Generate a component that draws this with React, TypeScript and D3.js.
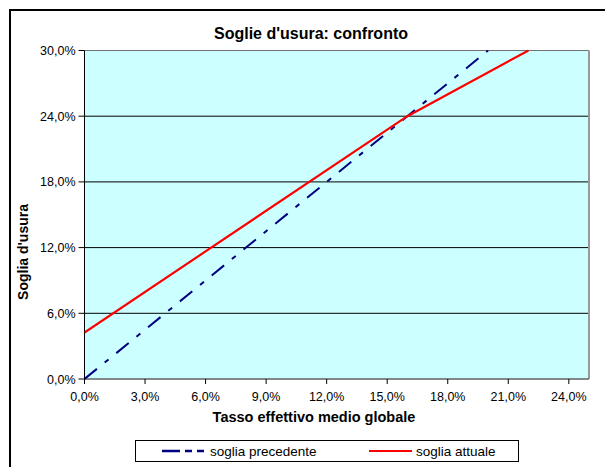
import React from "react";
import * as d3 from "d3";

const xTicks = [0, 3, 6, 9, 12, 15, 18, 21, 24];
const yTicks = [0, 6, 12, 18, 24, 30];
const precedenteX = [0, 20];
const precedenteY = [0, 30];
const attualeX = [0, 16, 22];
const attualeY = [4.25, 24, 30];

const W = 605;
const H = 467;
const M = { left: 84.5, right: 589, top: 50.5, bottom: 379 };
const FONT = "Arial, 'Liberation Sans', Helvetica, sans-serif";

export default function App() {
  const x = d3.scaleLinear().domain([0, 25]).range([M.left, M.right]);
  const y = d3.scaleLinear().domain([0, 30]).range([M.bottom, M.top]);
  const fmt = (v: number) => v.toFixed(1).replace(".", ",") + "%";
  const line = d3
    .line<[number, number]>()
    .x((d) => x(d[0]))
    .y((d) => y(d[1]));
  const bluePts = precedenteX.map((v, i) => [v, precedenteY[i]] as [number, number]);
  const redPts = attualeX.map((v, i) => [v, attualeY[i]] as [number, number]);

  return (
    <svg
      width={W}
      height={H}
      style={{ position: "absolute", left: 0, top: 0 }}
      fontFamily={FONT}
    >
      <rect x={0} y={0} width={W} height={H} fill="#ffffff" />
      <rect x={10} y={10} width={W + 20} height={H + 20} fill="none" stroke="#000" strokeWidth={2} />
      <text x={311} y={39} textAnchor="middle" fontSize={16} fontWeight="bold">
        Soglie d'usura: confronto
      </text>
      <rect
        x={M.left}
        y={M.top}
        width={M.right - M.left}
        height={M.bottom - M.top}
        fill="#CCFFFF"
      />
      {yTicks
        .filter((t) => t > 0 && t < 30)
        .map((t) => (
          <line key={t} x1={M.left} x2={M.right} y1={y(t)} y2={y(t)} stroke="#000" strokeWidth={1} />
        ))}
      <line x1={M.left} x2={M.right} y1={M.top} y2={M.top} stroke="#707070" strokeWidth={1} />
      <line x1={M.right} x2={M.right} y1={M.top} y2={M.bottom} stroke="#999" strokeWidth={2} />
      <line x1={M.left} x2={M.right} y1={M.bottom} y2={M.bottom} stroke="#606060" strokeWidth={1.5} />
      <line x1={M.left} x2={M.left} y1={M.top} y2={M.bottom} stroke="#000" strokeWidth={1} />
      <clipPath id="plotclip">
        <rect x={M.left} y={M.top - 1} width={M.right - M.left} height={M.bottom - M.top + 2} />
      </clipPath>
      <g clipPath="url(#plotclip)">
        <path
          d={line(bluePts) || ""}
          fill="none"
          stroke="#000080"
          strokeWidth={2}
          strokeDasharray="16,10,5,10"
        />
        <path d={line(redPts) || ""} fill="none" stroke="#FF0000" strokeWidth={2.2} />
      </g>
      {yTicks.map((t) => (
        <g key={t}>
          <line x1={M.left - 6} x2={M.left} y1={y(t)} y2={y(t)} stroke="#000" />
          <text x={M.left - 9} y={y(t) + 4.5} textAnchor="end" fontSize={12.5}>
            {fmt(t)}
          </text>
        </g>
      ))}
      {xTicks.map((t) => (
        <g key={t}>
          <line x1={x(t)} x2={x(t)} y1={M.bottom} y2={M.bottom + 5} stroke="#000" />
          <text x={x(t)} y={M.bottom + 22} textAnchor="middle" fontSize={12.5}>
            {fmt(t)}
          </text>
        </g>
      ))}
      <text x={314} y={422} textAnchor="middle" fontSize={14.5} fontWeight="bold">
        Tasso effettivo medio globale
      </text>
      <text
        transform={`translate(28,252) rotate(-90)`}
        textAnchor="middle"
        fontSize={14}
        fontWeight="bold"
      >
        Soglia d'usura
      </text>
      <rect x={135.5} y={440.5} width={383} height={21} fill="#fff" stroke="#000" strokeWidth={1} />
      <line x1={162} x2={206} y1={451} y2={451} stroke="#000080" strokeWidth={2.5} strokeDasharray="18,5,7,5,7,20" />
      <text x={210} y={456} fontSize={13.5}>
        soglia precedente
      </text>
      <line x1={369} x2={412} y1={451} y2={451} stroke="#FF0000" strokeWidth={2} />
      <text x={416} y={456} fontSize={13.5}>
        soglia attuale
      </text>
    </svg>
  );
}
